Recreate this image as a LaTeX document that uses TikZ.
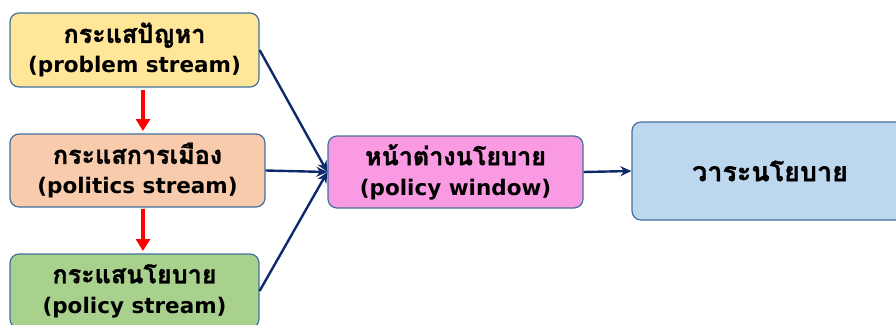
\documentclass[tikz,border=0pt]{standalone}
\usepackage{fontspec}
\setmainfont{DejaVu Sans}
\newfontfamily\thaifont[Script=Thai,Scale=1.17,BoldFeatures={FakeBold=1.2}]{Loma}
\usetikzlibrary{arrows.meta}
\definecolor{bord}{HTML}{41719C}
\definecolor{navy}{HTML}{0E2A6B}
\definecolor{cyel}{HTML}{FFE699}
\definecolor{cora}{HTML}{F8CBAD}
\definecolor{cgrn}{HTML}{A9D18E}
\definecolor{cpnk}{HTML}{F99AE2}
\definecolor{cblu}{HTML}{BDD7EE}
\tikzset{
  box/.style={draw=bord, line width=1.2pt, rounded corners=9pt, align=center,
    font=\bfseries\fontsize{21.5}{30}\selectfont, inner sep=0pt},
  conn/.style={draw=navy, line width=2.4pt, -{Stealth[length=11pt,width=10pt]}},
  redarr/.style={draw=red, line width=3.6pt, -{Triangle[length=12pt,width=14pt]}},
}
\begin{document}
\begin{tikzpicture}[x=1pt,y=-1pt]
\useasboundingbox (0,0) rectangle (896,324);
\node[box, fill=cyel, minimum width=249pt, minimum height=74pt] (prob) at (134.5,50)
  {{\thaifont กระแสปัญหา}\\(problem stream)};
\node[box, fill=cora, minimum width=255pt, minimum height=73pt] (pol) at (137.5,170.5)
  {{\thaifont กระแสการเมือง}\\(politics stream)};
\node[box, fill=cgrn, minimum width=249pt, minimum height=74pt] (pols) at (134.5,291)
  {{\thaifont กระแสนโยบาย}\\(policy stream)};
\node[box, fill=cpnk, minimum width=255pt, minimum height=72pt] (win) at (455.5,172)
  {{\thaifont หน้าต่างนโยบาย}\\(policy window)};
\node[box, fill=cblu, minimum width=276pt, minimum height=98pt, font=\bfseries\fontsize{23}{29}\selectfont] (agd) at (770,171)
  {\thaifont วาระนโยบาย};
\coordinate (r1s) at (143,90);
\coordinate (r1e) at (143,131);
\coordinate (r2s) at (143,209);
\coordinate (r2e) at (143,251);
\draw[redarr] (r1s) -- (r1e);
\draw[redarr] (r2s) -- (r2e);
\draw[conn] (prob.east) -- (win.west);
\draw[conn] (pol.east) -- (win.west);
\draw[conn] (pols.east) -- (win.west);
\draw[conn] (win.east) -- (agd.west);
\end{tikzpicture}
\end{document}
